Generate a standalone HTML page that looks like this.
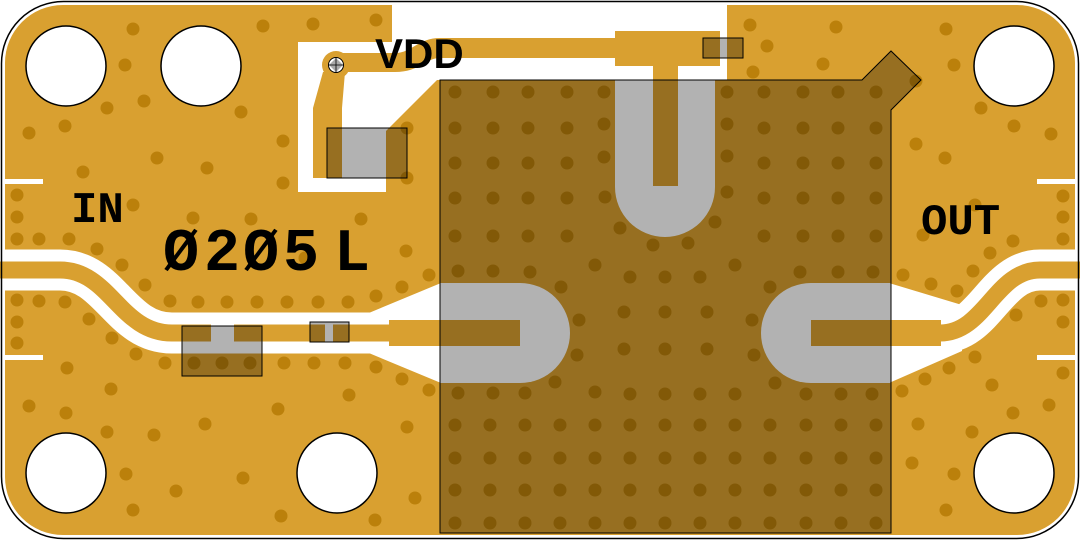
<!DOCTYPE html>
<html><head><meta charset="utf-8"><style>html,body{margin:0;padding:0;background:#fff}svg{display:block}</style></head>
<body>
<svg width="1080" height="540" viewBox="0 0 1080 540" xmlns="http://www.w3.org/2000/svg">
<rect x="0" y="0" width="1080" height="540" fill="#fff"/>
<rect x="5" y="5" width="1070" height="530" rx="58" fill="#D9A030"/>
<polygon points="392,0 727,0 727,80 437,80 386,131 386,192 298,192 298,42 392,42" fill="#fff"/>
<rect x="0" y="179" width="43" height="5" fill="#fff"/>
<rect x="0" y="355" width="43" height="5" fill="#fff"/>
<rect x="1037" y="179" width="43" height="5" fill="#fff"/>
<rect x="1037" y="355" width="43" height="5" fill="#fff"/>
<rect x="1075" y="170" width="5" height="200" fill="#fff"/>
<rect x="0" y="170" width="5" height="200" fill="#fff"/>
<path d="M0,270 L60,270 C110,270 120,333 172,333 L372,333" stroke="#fff" stroke-width="41" fill="none"/>
<polygon points="370,312.5 441,283 441,383 370,353.5" fill="#fff"/>
<path d="M1080,270 L1040,270 C995,270 985,333 940,333 L890,333" stroke="#fff" stroke-width="41" fill="none"/>
<polygon points="962,305 889,283 889,383 962,351" fill="#fff"/>
<path d="M0,270 L60,270 C110,270 120,333 172,333 L211,333" stroke="#D9A030" stroke-width="17" fill="none"/>
<rect x="234" y="324.5" width="91" height="17" fill="#D9A030"/>
<rect x="333" y="324.5" width="60" height="17" fill="#D9A030"/>
<rect x="389" y="320" width="131" height="26" fill="#D9A030"/>
<rect x="811" y="320" width="130" height="26" fill="#D9A030"/>
<path d="M1080,270 L1040,270 C995,270 985,333 940,333" stroke="#D9A030" stroke-width="17" fill="none"/>
<path d="M336,53 L395,53 C412,53 418,38 440,38 L615,38 L615,58 L440,58 C425,58 420,72 395,72 L336,72 Z" fill="#D9A030"/>
<rect x="615" y="31" width="105" height="35" fill="#D9A030"/>
<rect x="653" y="60" width="25" height="126" fill="#D9A030"/>
<polygon points="323,72 345,72 342,108 342,178 313,178 313,108" fill="#D9A030"/>
<circle cx="336" cy="65" r="14" fill="#D9A030"/>
<g fill="#BB800B">
<circle cx="133" cy="29" r="6.5"/><circle cx="263" cy="26" r="6.5"/><circle cx="313" cy="24" r="6.5"/><circle cx="376" cy="20" r="6.5"/>
<circle cx="125" cy="65" r="6.5"/><circle cx="144" cy="101" r="6.5"/><circle cx="107" cy="108" r="6.5"/><circle cx="241" cy="112" r="6.5"/>
<circle cx="29" cy="133" r="6.5"/><circle cx="65" cy="126" r="6.5"/><circle cx="157" cy="158" r="6.5"/><circle cx="283" cy="141" r="6.5"/>
<circle cx="207" cy="168" r="6.5"/><circle cx="83" cy="172" r="6.5"/><circle cx="283" cy="183" r="6.5"/>
<circle cx="17" cy="195" r="6.5"/><circle cx="17" cy="217" r="6.5"/><circle cx="17" cy="239" r="6.5"/><circle cx="39" cy="239" r="6.5"/>
<circle cx="69" cy="239" r="6.5"/><circle cx="97" cy="249" r="6.5"/><circle cx="133" cy="205" r="6.5"/><circle cx="251" cy="219" r="6.5"/>
<circle cx="361" cy="219" r="6.5"/><circle cx="407" cy="178" r="6.5"/><circle cx="407" cy="128" r="6.5"/><circle cx="406" cy="251" r="6.5"/>
<circle cx="122" cy="265" r="6.5"/><circle cx="193" cy="218" r="6.5"/><circle cx="305" cy="258" r="6.5"/>
<circle cx="17" cy="300" r="6.5"/><circle cx="39" cy="301" r="6.5"/><circle cx="65" cy="302" r="6.5"/><circle cx="17" cy="322" r="6.5"/><circle cx="17" cy="343" r="6.5"/>
<circle cx="89" cy="319" r="6.5"/><circle cx="112" cy="338" r="6.5"/><circle cx="136" cy="354" r="6.5"/>
<circle cx="145" cy="285" r="6.5"/><circle cx="170" cy="301" r="6.5"/><circle cx="198" cy="302" r="6.5"/><circle cx="227" cy="302" r="6.5"/>
<circle cx="257" cy="302" r="6.5"/><circle cx="287" cy="302" r="6.5"/><circle cx="318" cy="302" r="6.5"/><circle cx="348" cy="302" r="6.5"/>
<circle cx="376" cy="296" r="6.5"/><circle cx="402" cy="287" r="6.5"/><circle cx="429" cy="275" r="6.5"/>
<circle cx="165" cy="363" r="6.5"/><circle cx="194" cy="363" r="6.5"/><circle cx="222" cy="363" r="6.5"/><circle cx="250" cy="363" r="6.5"/>
<circle cx="284" cy="363" r="6.5"/><circle cx="314" cy="363" r="6.5"/><circle cx="345" cy="363" r="6.5"/><circle cx="376" cy="367" r="6.5"/>
<circle cx="402" cy="379" r="6.5"/><circle cx="429" cy="390" r="6.5"/><circle cx="67" cy="368" r="6.5"/><circle cx="111" cy="389" r="6.5"/>
<circle cx="29" cy="406" r="6.5"/><circle cx="66" cy="413" r="6.5"/><circle cx="107" cy="432" r="6.5"/><circle cx="154" cy="435" r="6.5"/>
<circle cx="205" cy="424" r="6.5"/><circle cx="349" cy="395" r="6.5"/><circle cx="278" cy="409" r="6.5"/><circle cx="407" cy="427" r="6.5"/>
<circle cx="126" cy="474" r="6.5"/><circle cx="176" cy="491" r="6.5"/><circle cx="243" cy="478" r="6.5"/><circle cx="133" cy="510" r="6.5"/>
<circle cx="281" cy="516" r="6.5"/><circle cx="375" cy="520" r="6.5"/><circle cx="415" cy="498" r="6.5"/>
<circle cx="750" cy="25" r="6.5"/><circle cx="836" cy="27" r="6.5"/><circle cx="946" cy="29" r="6.5"/><circle cx="767" cy="46" r="6.5"/>
<circle cx="753" cy="72" r="6.5"/><circle cx="823" cy="64" r="6.5"/><circle cx="954" cy="65" r="6.5"/><circle cx="916" cy="81" r="6.5"/>
<circle cx="916" cy="144" r="6.5"/><circle cx="1014" cy="126" r="6.5"/><circle cx="1051" cy="134" r="6.5"/><circle cx="981" cy="108" r="6.5"/>
<circle cx="945" cy="158" r="6.5"/><circle cx="1063" cy="196" r="6.5"/><circle cx="1063" cy="217" r="6.5"/><circle cx="1063" cy="239" r="6.5"/>
<circle cx="1013" cy="241" r="6.5"/><circle cx="990" cy="253" r="6.5"/><circle cx="923" cy="235" r="6.5"/><circle cx="975" cy="205" r="6.5"/>
<circle cx="903" cy="275" r="6.5"/><circle cx="931" cy="284" r="6.5"/><circle cx="957" cy="291" r="6.5"/><circle cx="973" cy="271" r="6.5"/>
<circle cx="902" cy="391" r="6.5"/><circle cx="925" cy="379" r="6.5"/><circle cx="949" cy="368" r="6.5"/><circle cx="975" cy="357" r="6.5"/>
<circle cx="1016" cy="315" r="6.5"/><circle cx="1041" cy="301" r="6.5"/><circle cx="1063" cy="300" r="6.5"/><circle cx="1063" cy="322" r="6.5"/>
<circle cx="1063" cy="373" r="6.5"/><circle cx="1049" cy="405" r="6.5"/><circle cx="1013" cy="413" r="6.5"/><circle cx="992" cy="385" r="6.5"/>
<circle cx="918" cy="424" r="6.5"/><circle cx="972" cy="432" r="6.5"/><circle cx="912" cy="463" r="6.5"/><circle cx="954" cy="474" r="6.5"/>
<circle cx="946" cy="510" r="6.5"/><circle cx="1015" cy="498" r="6.5"/>
</g>
<g fill="#BB800B">
<circle cx="455" cy="92" r="6.5"/><circle cx="493" cy="92" r="6.5"/><circle cx="528" cy="92" r="6.5"/><circle cx="567" cy="92" r="6.5"/><circle cx="604" cy="92" r="6.5"/>
<circle cx="455" cy="128" r="6.5"/><circle cx="493" cy="128" r="6.5"/><circle cx="528" cy="128" r="6.5"/><circle cx="567" cy="128" r="6.5"/><circle cx="604" cy="124" r="6.5"/>
<circle cx="455" cy="163" r="6.5"/><circle cx="493" cy="163" r="6.5"/><circle cx="528" cy="163" r="6.5"/><circle cx="567" cy="163" r="6.5"/><circle cx="604" cy="157" r="6.5"/>
<circle cx="455" cy="198" r="6.5"/><circle cx="493" cy="198" r="6.5"/><circle cx="528" cy="198" r="6.5"/><circle cx="567" cy="198" r="6.5"/><circle cx="605" cy="197" r="6.5"/>
<circle cx="455" cy="236" r="6.5"/><circle cx="493" cy="236" r="6.5"/><circle cx="528" cy="236" r="6.5"/><circle cx="567" cy="236" r="6.5"/><circle cx="620" cy="228" r="6.5"/>
<circle cx="458" cy="271" r="6.5"/><circle cx="493" cy="271" r="6.5"/><circle cx="530" cy="272" r="6.5"/><circle cx="595" cy="265" r="6.5"/><circle cx="653" cy="245" r="6.5"/><circle cx="688" cy="243" r="6.5"/>
<circle cx="561" cy="287" r="6.5"/><circle cx="579" cy="320" r="6.5"/><circle cx="577" cy="355" r="6.5"/><circle cx="555" cy="382" r="6.5"/>
<circle cx="630" cy="277" r="6.5"/><circle cx="665" cy="277" r="6.5"/><circle cx="700" cy="277" r="6.5"/><circle cx="735" cy="265" r="6.5"/>
<circle cx="800" cy="272" r="6.5"/><circle cx="838" cy="272" r="6.5"/><circle cx="873" cy="272" r="6.5"/>
<circle cx="624" cy="312" r="6.5"/><circle cx="665" cy="312" r="6.5"/><circle cx="707" cy="312" r="6.5"/><circle cx="752" cy="320" r="6.5"/>
<circle cx="624" cy="349" r="6.5"/><circle cx="665" cy="349" r="6.5"/><circle cx="707" cy="349" r="6.5"/><circle cx="754" cy="355" r="6.5"/>
<circle cx="770" cy="287" r="6.5"/><circle cx="775" cy="383" r="6.5"/>
<circle cx="458" cy="393" r="6.5"/><circle cx="493" cy="393" r="6.5"/><circle cx="525" cy="393" r="6.5"/><circle cx="595" cy="392" r="6.5"/>
<circle cx="630" cy="394" r="6.5"/><circle cx="665" cy="394" r="6.5"/><circle cx="700" cy="394" r="6.5"/><circle cx="735" cy="394" r="6.5"/>
<circle cx="806" cy="394" r="6.5"/><circle cx="841" cy="394" r="6.5"/><circle cx="872" cy="394" r="6.5"/>
<circle cx="764" cy="92" r="6.5"/><circle cx="803" cy="92" r="6.5"/><circle cx="838" cy="92" r="6.5"/><circle cx="876" cy="92" r="6.5"/><circle cx="727" cy="92" r="6.5"/>
<circle cx="764" cy="128" r="6.5"/><circle cx="803" cy="128" r="6.5"/><circle cx="838" cy="128" r="6.5"/><circle cx="876" cy="128" r="6.5"/><circle cx="727" cy="124" r="6.5"/>
<circle cx="764" cy="163" r="6.5"/><circle cx="803" cy="163" r="6.5"/><circle cx="838" cy="163" r="6.5"/><circle cx="876" cy="163" r="6.5"/><circle cx="727" cy="156" r="6.5"/>
<circle cx="764" cy="198" r="6.5"/><circle cx="803" cy="198" r="6.5"/><circle cx="838" cy="198" r="6.5"/><circle cx="876" cy="198" r="6.5"/><circle cx="727" cy="192" r="6.5"/>
<circle cx="764" cy="236" r="6.5"/><circle cx="803" cy="236" r="6.5"/><circle cx="838" cy="236" r="6.5"/><circle cx="876" cy="236" r="6.5"/><circle cx="715" cy="222" r="6.5"/>
</g>
<g fill="#BB800B">
<circle cx="455" cy="425" r="6.5"/><circle cx="490" cy="425" r="6.5"/><circle cx="525" cy="425" r="6.5"/><circle cx="560" cy="425" r="6.5"/><circle cx="595" cy="425" r="6.5"/><circle cx="630" cy="425" r="6.5"/><circle cx="665" cy="425" r="6.5"/><circle cx="700" cy="425" r="6.5"/><circle cx="735" cy="425" r="6.5"/><circle cx="770" cy="425" r="6.5"/><circle cx="806" cy="425" r="6.5"/><circle cx="841" cy="425" r="6.5"/><circle cx="876" cy="425" r="6.5"/>
<circle cx="455" cy="458" r="6.5"/><circle cx="490" cy="458" r="6.5"/><circle cx="525" cy="458" r="6.5"/><circle cx="560" cy="458" r="6.5"/><circle cx="595" cy="458" r="6.5"/><circle cx="630" cy="458" r="6.5"/><circle cx="665" cy="458" r="6.5"/><circle cx="700" cy="458" r="6.5"/><circle cx="735" cy="458" r="6.5"/><circle cx="770" cy="458" r="6.5"/><circle cx="806" cy="458" r="6.5"/><circle cx="841" cy="458" r="6.5"/><circle cx="876" cy="458" r="6.5"/>
<circle cx="455" cy="490" r="6.5"/><circle cx="490" cy="490" r="6.5"/><circle cx="525" cy="490" r="6.5"/><circle cx="560" cy="490" r="6.5"/><circle cx="595" cy="490" r="6.5"/><circle cx="630" cy="490" r="6.5"/><circle cx="665" cy="490" r="6.5"/><circle cx="700" cy="490" r="6.5"/><circle cx="735" cy="490" r="6.5"/><circle cx="770" cy="490" r="6.5"/><circle cx="806" cy="490" r="6.5"/><circle cx="841" cy="490" r="6.5"/><circle cx="876" cy="490" r="6.5"/>
<circle cx="455" cy="523" r="6.5"/><circle cx="490" cy="523" r="6.5"/><circle cx="525" cy="523" r="6.5"/><circle cx="560" cy="523" r="6.5"/><circle cx="595" cy="523" r="6.5"/><circle cx="630" cy="523" r="6.5"/><circle cx="665" cy="523" r="6.5"/><circle cx="700" cy="523" r="6.5"/><circle cx="735" cy="523" r="6.5"/><circle cx="770" cy="523" r="6.5"/><circle cx="806" cy="523" r="6.5"/><circle cx="841" cy="523" r="6.5"/><circle cx="876" cy="523" r="6.5"/>
</g>
<path d="M615,75 L715,75 L715,187 A50,50 0 0 1 615,187 Z" fill="#fff"/>
<rect x="653" y="75" width="25" height="111" fill="#D9A030"/>
<path d="M440,283 L520,283 A50,50 0 0 1 520,383 L440,383 Z" fill="#fff"/>
<rect x="440" y="320" width="80" height="26" fill="#D9A030"/>
<path d="M890,283 L811,283 A50,50 0 0 0 811,383 L890,383 Z" fill="#fff"/>
<rect x="811" y="320" width="79" height="26" fill="#D9A030"/>
<polygon points="440,80 862,80 891,51 921,80 891,110 891,533 440,533" fill="rgba(0,0,0,0.3)" stroke="#000" stroke-width="1"/>
<rect x="327" y="128" width="80" height="50" fill="rgba(0,0,0,0.3)" stroke="#000" stroke-width="1"/>
<rect x="182" y="326" width="80" height="50" fill="rgba(0,0,0,0.3)" stroke="#000" stroke-width="1"/>
<rect x="310" y="322" width="39" height="20" fill="rgba(0,0,0,0.3)" stroke="#000" stroke-width="1"/>
<rect x="703" y="38" width="40" height="20" fill="rgba(0,0,0,0.3)" stroke="#000" stroke-width="1"/>
<circle cx="336" cy="65" r="7.5" fill="#fff" stroke="#000" stroke-width="1"/>
<path d="M329,65 L336,58 L343,65 Z" fill="#aaa"/>
<path d="M329,65 L343,65 L336,72 Z" fill="#aaa"/>
<path d="M336,58 L336,72 M329,65 L343,65" stroke="#000" stroke-width="0.8"/>
<g fill="#fff" stroke="#000" stroke-width="1.5">
<circle cx="66" cy="66" r="40"/><circle cx="201" cy="66" r="40"/>
<circle cx="66" cy="473" r="40"/><circle cx="337" cy="473" r="40"/>
<circle cx="1014" cy="66" r="40"/><circle cx="1014" cy="473" r="40"/>
</g>
<g font-family="Liberation Sans, sans-serif" font-weight="bold" fill="#000">
<text x="375" y="68" font-size="42">VDD</text>
<text x="71" y="222" font-size="44" font-family="Liberation Mono, monospace">IN</text>
<text x="921" y="234" font-size="44" font-family="Liberation Mono, monospace">OUT</text>
<text y="270" font-size="60" font-family="Liberation Mono, monospace"><tspan x="163">Ø</tspan><tspan x="204">2</tspan><tspan x="243">Ø</tspan><tspan x="283">5</tspan><tspan x="334">L</tspan></text>
</g>
<rect x="1.5" y="1.5" width="1077" height="537" rx="62" fill="none" stroke="#000" stroke-width="1.5"/>
</svg>
</body></html>
